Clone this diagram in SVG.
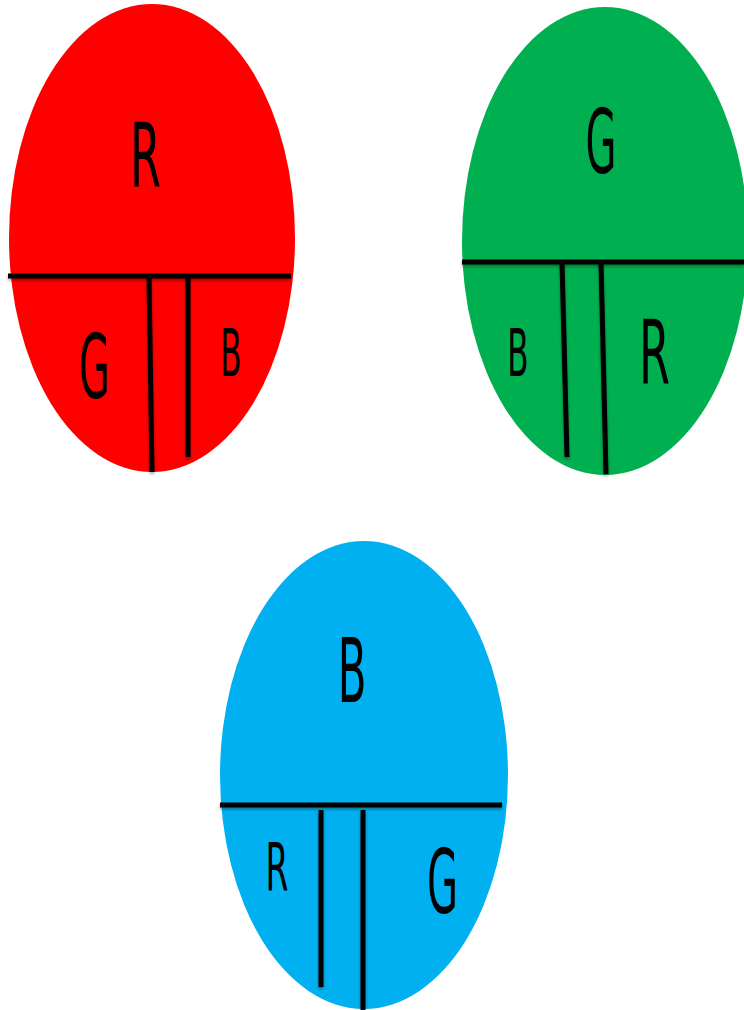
<svg xmlns="http://www.w3.org/2000/svg" width="744" height="1010" viewBox="0 0 744 1010">
  <defs>
    <!-- user-space region so straight (zero-width/height) lines still render -->
    <filter id="shadow" filterUnits="userSpaceOnUse" x="0" y="0" width="744" height="1010">
      <feDropShadow dx="0" dy="2" stdDeviation="1.5" flood-color="#000" flood-opacity="0.35"/>
    </filter>
  </defs>
  <style>
    .divider { stroke: #000; stroke-width: 5; fill: none; filter: url(#shadow); }
    .big { font-family: "DejaVu Sans", sans-serif; font-size: 89px; fill: #000; text-anchor: middle; }
    .small { font-family: "DejaVu Sans", sans-serif; font-size: 66px; fill: #000; text-anchor: middle; }
  </style>

  <rect width="744" height="1010" fill="#fff"/>

  <!-- Red egg -->
  <g id="node-red">
    <ellipse cx="152" cy="238" rx="143" ry="234" fill="#FF0000"/>
    <text class="big" transform="translate(145.5,187) scale(0.5,1)">R</text>
    <text class="big" transform="translate(94.5,398) scale(0.45,1)">G</text>
    <text class="small" transform="translate(231,376) scale(0.47,1)">B</text>
  </g>

  <!-- Green egg -->
  <g id="node-green">
    <ellipse cx="605" cy="241" rx="143" ry="234" fill="#00B050"/>
    <text class="big" transform="translate(601,173) scale(0.45,1)">G</text>
    <text class="small" transform="translate(518,376) scale(0.47,1)">B</text>
    <text class="big" transform="translate(654.5,384) scale(0.5,1)">R</text>
  </g>

  <!-- Blue egg -->
  <g id="node-blue">
    <ellipse cx="364" cy="775" rx="144" ry="234" fill="#00B0F0"/>
    <text class="big" transform="translate(352,702) scale(0.47,1)">B</text>
    <text class="small" transform="translate(277,890) scale(0.5,1)">R</text>
    <text class="big" transform="translate(442.5,913) scale(0.45,1)">G</text>
  </g>

  <!-- Dividing lines -->
  <g id="connectors">
    <line class="divider" x1="8" y1="276" x2="291" y2="276"/>
    <line class="divider" x1="149" y1="276" x2="152" y2="472"/>
    <line class="divider" x1="188" y1="276" x2="188" y2="457"/>

    <line class="divider" x1="462" y1="262" x2="744" y2="262"/>
    <line class="divider" x1="562" y1="262" x2="567" y2="457"/>
    <line class="divider" x1="601" y1="262" x2="606" y2="474"/>

    <line class="divider" x1="220" y1="805" x2="502" y2="805"/>
    <line class="divider" x1="321" y1="810" x2="321" y2="987"/>
    <line class="divider" x1="363" y1="810" x2="363" y2="1010"/>
  </g>
</svg>
